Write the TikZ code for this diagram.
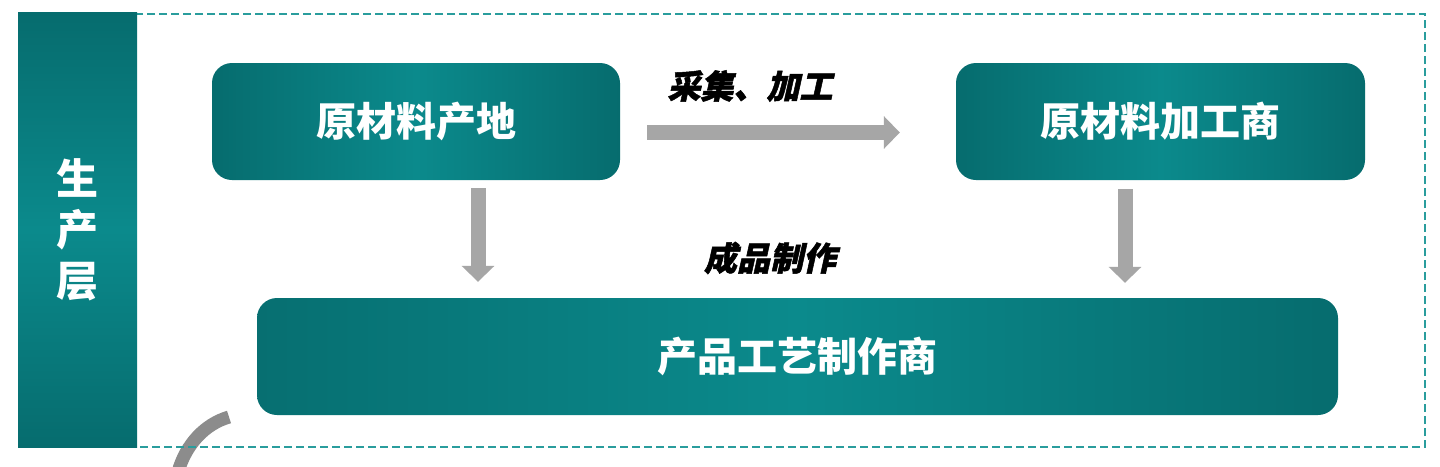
\documentclass[tikz,border=0pt]{standalone}
\usepackage{fontspec}
\newfontfamily\cjk{Noto Sans CJK SC}
\newfontfamily\cjkslant{Noto Sans CJK SC}[FakeSlant=0.22,FakeBold=1.5]
\usetikzlibrary{arrows.meta}
\definecolor{tealdark}{HTML}{066C6E}
\definecolor{tealmid}{HTML}{0B8A8C}
\definecolor{dashteal}{HTML}{2A9D9D}
\definecolor{arrgray}{HTML}{A6A6A6}
\begin{document}
\begin{tikzpicture}[x=1pt,y=-1pt,
  box/.style={rounded corners=20pt, inner sep=0pt, left color=tealdark, right color=tealdark, middle color=tealmid,
    text=white, font=\cjk\bfseries\fontsize{40}{48}\selectfont, minimum height=117pt},
  arr/.style={draw=arrgray, line width=15pt, -{Triangle[width=32pt,length=16pt]}},
  lbl/.style={font=\cjkslant\bfseries\fontsize{33}{38}\selectfont, text=black, inner sep=0pt}
]
\useasboundingbox (0,0) rectangle (1440,466);
\fill[white] (0,0) rectangle (1440,466);
% decorative gray arc
\begin{scope}
\clip (0,0) rectangle (1440,466);
\draw[line width=13pt, color=black!45] (229,417) .. controls (205,424) and (186,444) .. (178,472);
\end{scope}
% dashed frame
\node[draw=dashteal, line width=2.4pt, dash pattern=on 8pt off 4pt, minimum width=1297pt, minimum height=433pt, inner sep=0pt] (frame) at (776.5,230.5) {};
% left bar
\node[inner sep=0pt, minimum width=119pt, minimum height=435pt, top color=tealdark, bottom color=tealdark, middle color=tealmid,
  text=white, font=\cjk\bfseries\fontsize{42}{51}\selectfont, align=center] (bar) at (77.5,229.5) {生\\产\\层};
% boxes
\node[box, minimum width=408pt] (b1) at (416,121.5) {原材料产地};
\node[box, minimum width=409pt] (b2) at (1160.5,121.5) {原材料加工商};
\node[box, minimum width=1081pt, left color=tealdark!90!tealmid, right color=tealdark, middle color=tealmid] (b3) at (797.5,356.5) {产品工艺制作商};
% arrows
\draw[arr, shorten <=27pt, shorten >=56pt] ([yshift=-11pt]b1.east) -- ([yshift=-11pt]b2.west);
\draw[arr, shorten <=8pt, shorten >=16pt] ([xshift=62pt]b1.south) -- ([xshift=62pt]b1.south |- b3.north);
\draw[arr, shorten <=9pt, shorten >=15pt] ([xshift=-35.5pt]b2.south) -- ([xshift=-35.5pt]b2.south |- b3.north);
% labels
\node[lbl] (l1) at (750,86) {采集、加工};
\node[lbl] (l2) at (770,258) {成品制作};
\end{tikzpicture}
\end{document}
